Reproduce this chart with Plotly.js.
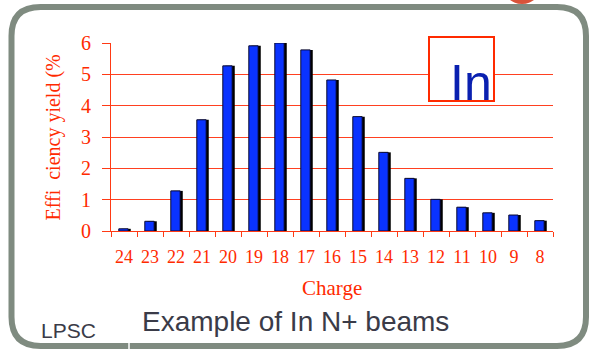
<!DOCTYPE html>
<html>
<head>
<meta charset="utf-8">
<script src="https://cdn.plot.ly/plotly-3.0.1.min.js"></script>
<style>
  html, body { margin: 0; padding: 0; background: #ffffff; }
  #chart { width: 589px; height: 350px; }
</style>
</head>
<body>
<div id="chart"></div>
<script>
// ---- data ----
const charges = ['24','23','22','21','20','19','18','17','16','15','14','13','12','11','10','9','8'];
const yieldPct = [0.07, 0.31, 1.28, 3.55, 5.27, 5.91, 6.0, 5.78, 4.82, 3.65, 2.51, 1.68, 1.01, 0.76, 0.58, 0.51, 0.33];
const yTicks = [0, 1, 2, 3, 4, 5, 6];
const xTitle = 'Charge';
const yTitle = 'Effi  ciency yield (%';
const elementLabel = 'In';
const captionText = 'Example of In N+ beams';
const labText = 'LPSC';

// ---- geometry helpers (pixel -> paper) ----
const W = 589, H = 350;
const M = {l: 111, r: 36, t: 43, b: 119};
const PW = W - M.l - M.r, PH = H - M.t - M.b;
const px = x => (x - M.l) / PW;
const py = y => (H - M.b - y) / PH;
const P = (x, y) => px(x).toFixed(5) + ',' + py(y).toFixed(5);

function roundRect(x0, y0, x1, y1, r) {
  return 'M' + P(x0 + r, y0) + ' L' + P(x1 - r, y0) +
    ' Q' + P(x1, y0) + ' ' + P(x1, y0 + r) +
    ' L' + P(x1, y1 - r) +
    ' Q' + P(x1, y1) + ' ' + P(x1 - r, y1) +
    ' L' + P(x0 + r, y1) +
    ' Q' + P(x0, y1) + ' ' + P(x0, y1 - r) +
    ' L' + P(x0, y0 + r) +
    ' Q' + P(x0, y0) + ' ' + P(x0 + r, y0) + ' Z';
}

const RED = '#ff3a14';
const RED_TXT = '#ff2a00';
const SERIF = 'Liberation Serif, Times New Roman, serif';
const SANS = 'Liberation Sans, Arial, sans-serif';

// drop shadow behind each bar (main y axis)
const shadow = {
  type: 'bar', x: charges, y: yieldPct,
  width: 0.36, offset: -0.1,
  marker: {color: '#000000', line: {width: 0}},
  hoverinfo: 'skip', showlegend: false
};
// blue bars on an identical overlaid axis, drawn above the shadow
const bars = {
  type: 'bar', x: charges, y: yieldPct, yaxis: 'y2',
  width: 0.36, offset: -0.2,
  marker: {color: '#0a33ff', line: {color: '#0a0a30', width: 1}},
  showlegend: false
};

const layout = {
  width: W, height: H,
  margin: M,
  paper_bgcolor: '#ffffff', plot_bgcolor: '#ffffff',
  barmode: 'overlay',
  showlegend: false,
  xaxis: {
    type: 'category', range: [-0.5, 16.5],
    showgrid: false, zeroline: false,
    showline: true, linecolor: RED, linewidth: 1,
    ticks: 'outside', tickson: 'boundaries', ticklen: 5, tickcolor: RED, tickwidth: 1,
    tickangle: 0,
    tickfont: {family: SERIF, size: 18, color: RED_TXT},
    ticklabelstandoff: 9
  },
  yaxis: {
    range: [0, 6], tickvals: yTicks,
    showgrid: true, gridcolor: '#ff4020', gridwidth: 1,
    zeroline: false,
    showline: true, linecolor: RED, linewidth: 1,
    ticks: 'outside', ticklen: 8, tickcolor: RED, tickwidth: 1,
    tickfont: {family: SERIF, size: 20, color: RED_TXT},
    ticklabelstandoff: 7
  },
  yaxis2: {
    overlaying: 'y', range: [0, 6], showgrid: false, zeroline: false,
    showticklabels: false, ticks: '', showline: false
  },
  shapes: [
    {type: 'circle', xref: 'paper', yref: 'paper',
     x0: px(502), x1: px(542), y0: py(-36), y1: py(4),
     fillcolor: '#d9533a', line: {width: 0}, layer: 'below'},
    {type: 'path', xref: 'paper', yref: 'paper',
     path: roundRect(11.5, 7, 586, 346, 29),
     line: {color: '#7f8b80', width: 6}, fillcolor: 'rgba(0,0,0,0)', layer: 'above'},
    {type: 'line', xref: 'paper', yref: 'paper',
     x0: px(129), x1: px(129), y0: py(339), y1: py(350),
     line: {color: '#ffffff', width: 1.5}, layer: 'above'},
    {type: 'rect', xref: 'paper', yref: 'paper',
     x0: px(429), x1: px(494), y0: py(101), y1: py(37),
     fillcolor: '#ffffff', line: {color: '#ff2a00', width: 2}, layer: 'above'}
  ],
  annotations: [
    {text: yTitle, xref: 'paper', yref: 'paper', x: px(53), y: py(137.5),
     xanchor: 'center', yanchor: 'middle', textangle: -90, showarrow: false,
     font: {family: SERIF, size: 20, color: RED_TXT}},
    {text: xTitle, xref: 'paper', yref: 'paper', x: px(332), y: py(288),
     xanchor: 'center', yanchor: 'middle', showarrow: false,
     font: {family: SERIF, size: 21, color: RED_TXT}},
    {text: elementLabel, xref: 'paper', yref: 'paper', x: px(471), y: py(83),
     xanchor: 'center', yanchor: 'middle', showarrow: false,
     font: {family: SANS, size: 50, color: '#0a20b0'}},
    {text: captionText, xref: 'paper', yref: 'paper', x: px(295.5), y: py(321),
     xanchor: 'center', yanchor: 'middle', showarrow: false,
     font: {family: SANS, size: 28, color: '#3a3b48'}},
    {text: labText, xref: 'paper', yref: 'paper', x: px(68.5), y: py(330),
     xanchor: 'center', yanchor: 'middle', showarrow: false,
     font: {family: SANS, size: 21, color: '#3a3b48'}}
  ]
};

Plotly.newPlot('chart', [shadow, bars], layout, {staticPlot: true, displayModeBar: false});
</script>
</body>
</html>
